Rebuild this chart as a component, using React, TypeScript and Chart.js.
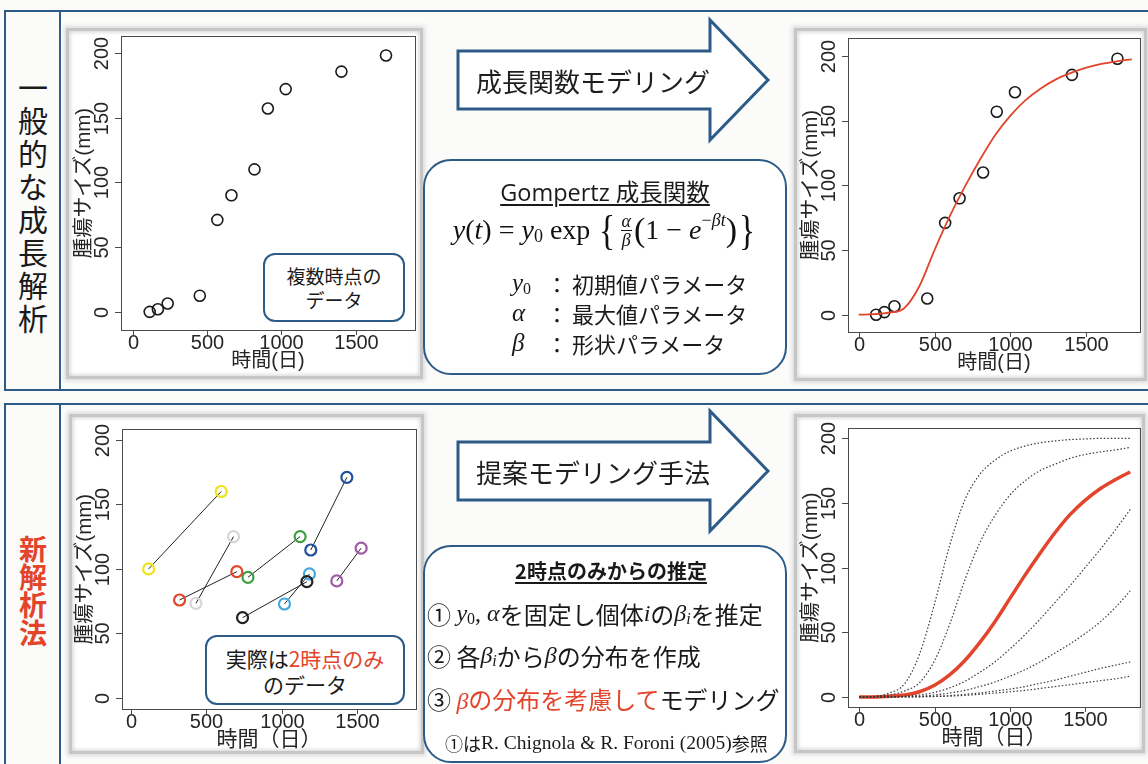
import React, { useEffect, useRef } from "react";
import { Chart, registerables } from "chart.js";

Chart.register(...registerables);

const FONT_SANS = '"Liberation Sans", Arial, "Noto Sans CJK JP", sans-serif';
const FONT_JP = '"Noto Sans CJK JP", "Liberation Sans", sans-serif';
const FONT_SERIF = '"Liberation Serif", "DejaVu Serif", serif';
const BLUE = "#2d5b88";
const RED = "#e2452b";

// ---- axis text ----
const xTicks = [0, 500, 1000, 1500];
const yTicks = [0, 50, 100, 150, 200];
const yTitle = "腫瘍サイズ(mm)";
const xTitleTop = "時間(日)";
const xTitleBottom = "時間（日）";

// ---- observed tumour sizes (top charts) ----
const obsDays = [115, 170, 236, 452, 570, 665, 820, 910, 1030, 1405, 1705];
const obsSize = [0, 2, 6.5, 12.5, 71, 90, 110, 157, 172, 185.5, 198];

// ---- fitted Gompertz curve (top right, red) ----
const fitDays = [0, 100, 200, 300, 400, 500, 600, 700, 800, 900, 1000, 1100, 1200, 1300, 1400, 1500, 1600, 1700, 1800];
const fitSize = [0, 0.4, 1.5, 5, 22, 50, 76, 99, 120, 139, 154, 166, 175, 182, 187, 191, 194, 196, 197.5];

// ---- two-time-point pairs (bottom left) ----
const pairDay1 = [115, 430, 321, 776, 740, 1019, 1194, 1367];
const pairSize1 = [99.9, 73.2, 75.8, 93.4, 62.1, 72.7, 114.6, 90.6];
const pairDay2 = [598, 680, 702, 1123, 1168, 1185, 1434, 1529];
const pairSize2 = [160, 125, 97.8, 125, 90, 96, 171, 116];
const pairColors = ["#efe31a", "#d6d6d6", "#e2452b", "#3f9f3f", "#222222", "#45a9dc", "#1f4f9e", "#a05aa8"];

// ---- simulated growth curves (bottom right) ----
const simDays = [0, 100, 200, 300, 400, 500, 600, 700, 800, 900, 1000, 1100, 1200, 1300, 1400, 1500, 1600, 1700, 1800];
const simA = [0, 0.5, 3, 10, 33, 72, 117, 152, 172, 183, 190, 194, 196.5, 198, 199, 199.5, 200, 200, 200];
const simB = [0, 0.3, 1.5, 4.5, 11, 28, 56, 90, 119, 140, 156, 167, 175, 180, 184.5, 187.5, 189.5, 191, 193];
const simMean = [0, 0, 0.5, 1.5, 4, 9, 17, 28, 42, 58, 76, 94, 111, 127, 141, 152, 161, 168, 174];
const simC = [0, 0, 0.2, 0.6, 1.5, 3.5, 7, 12, 19, 27, 37, 48, 60, 73, 86, 100, 114, 129, 145];
const simD = [0, 0, 0, 0.2, 0.6, 1.5, 3, 5, 8, 11.5, 16, 21, 27, 34, 41, 49, 58, 69, 82];
const simE = [0, 0, 0, 0, 0.2, 0.5, 1, 2, 3, 4.5, 6, 8, 10.5, 13, 16, 19, 22, 24.5, 27];
const simF = [0, 0, 0, 0, 0.1, 0.3, 0.6, 1.2, 2, 3, 4, 5, 6.5, 8, 9.5, 11, 12.5, 14, 16];

const zip = (xs: number[], ys: number[]) => xs.map((x, i) => ({ x, y: ys[i] }));

function axesPlugin(xTitle: string, xTitleSize: number) {
  return {
    id: "rAxes",
    afterDraw(chart: any) {
      const { ctx, chartArea: a, scales } = chart;
      const xs = scales.x;
      const ys = scales.y;
      ctx.save();
      ctx.strokeStyle = "#4a4a4a";
      ctx.lineWidth = 1;
      ctx.strokeRect(Math.round(a.left) + 0.5, Math.round(a.top) + 0.5, Math.round(a.right - a.left), Math.round(a.bottom - a.top));
      ctx.fillStyle = "#262626";
      ctx.textAlign = "center";
      ctx.textBaseline = "middle";
      ctx.font = `20px ${FONT_SANS}`;
      for (const v of xTicks) {
        const px = Math.round(xs.getPixelForValue(v)) + 0.5;
        ctx.beginPath();
        ctx.moveTo(px, a.bottom);
        ctx.lineTo(px, a.bottom + 5);
        ctx.stroke();
        ctx.fillText(String(v), px, a.bottom + 13);
      }
      for (const v of yTicks) {
        const py = Math.round(ys.getPixelForValue(v)) + 0.5;
        ctx.beginPath();
        ctx.moveTo(a.left, py);
        ctx.lineTo(a.left - 6, py);
        ctx.stroke();
        ctx.save();
        ctx.translate(a.left - 19, py);
        ctx.rotate(-Math.PI / 2);
        ctx.fillText(String(v), 0, 0);
        ctx.restore();
      }
      ctx.font = `20.5px ${FONT_SANS}`;
      ctx.save();
      ctx.translate(a.left - 37, (a.top + a.bottom) / 2);
      ctx.rotate(-Math.PI / 2);
      ctx.fillText(yTitle, 0, 0);
      ctx.restore();
      ctx.font = `${xTitleSize}px ${FONT_SANS}`;
      ctx.fillText(xTitle, (a.left + a.right) / 2, a.bottom + 31);
      ctx.restore();
    },
  };
}

type Rect = [number, number, number, number];

function RChart(props: { frame: Rect; plot: Rect; xRange: [number, number]; yRange: [number, number]; datasets: any[]; xTitle: string; xTitleSize: number }) {
  const { frame, plot, xRange, yRange, datasets, xTitle, xTitleSize } = props;
  const ref = useRef<HTMLCanvasElement>(null);
  const [fl, ft, fr, fb] = frame;
  const [pl, pt, pr, pb] = plot;
  const w = fr - fl;
  const h = fb - ft;
  useEffect(() => {
    const chart = new Chart(ref.current as HTMLCanvasElement, {
      type: "scatter",
      data: { datasets },
      options: {
        animation: false,
        responsive: false,
        devicePixelRatio: 1,
        events: [],
        layout: { padding: { left: pl - fl, top: pt - ft, right: fr - pr, bottom: fb - pb } },
        plugins: { legend: { display: false }, tooltip: { enabled: false } },
        scales: {
          x: { type: "linear", display: false, min: xRange[0], max: xRange[1] },
          y: { type: "linear", display: false, min: yRange[0], max: yRange[1] },
        },
      } as any,
      plugins: [axesPlugin(xTitle, xTitleSize)],
    });
    return () => chart.destroy();
  }, []);
  return (
    <>
      <div
        style={{
          position: "absolute",
          left: fl,
          top: ft,
          width: w,
          height: h,
          boxSizing: "border-box",
          border: "3px solid #c6c6c6",
          boxShadow: "0 0 4px 2px #dcdcdc, inset 0 0 4px 1px #d2d2d2",
          background: "#ffffff",
        }}
      />
      <canvas ref={ref} width={w} height={h} style={{ position: "absolute", left: fl, top: ft, width: w, height: h }} />
    </>
  );
}

const obsDataset = {
  data: zip(obsDays, obsSize),
  showLine: false,
  pointRadius: 5.5,
  pointBorderWidth: 1.6,
  pointBorderColor: "#1a1a1a",
  pointBackgroundColor: "rgba(0,0,0,0)",
};

const tlDatasets = [obsDataset];
const trDatasets = [
  {
    data: zip(fitDays, fitSize),
    showLine: true,
    borderColor: RED,
    borderWidth: 1.8,
    pointRadius: 0,
    cubicInterpolationMode: "monotone",
  },
  obsDataset,
];
const blDatasets = pairColors.map((c, i) => ({
  data: [
    { x: pairDay1[i], y: pairSize1[i] },
    { x: pairDay2[i], y: pairSize2[i] },
  ],
  showLine: true,
  borderColor: "#222222",
  borderWidth: 1,
  pointRadius: 5.5,
  pointBorderWidth: 2.2,
  pointBorderColor: c,
  pointBackgroundColor: "rgba(0,0,0,0)",
}));
const dotted = (ys: number[]) => ({
  data: zip(simDays, ys),
  showLine: true,
  borderColor: "#3a3a3a",
  borderWidth: 1.2,
  borderDash: [1.5, 2],
  pointRadius: 0,
  cubicInterpolationMode: "monotone",
});
const brDatasets = [
  dotted(simA),
  dotted(simB),
  dotted(simC),
  dotted(simD),
  dotted(simE),
  dotted(simF),
  {
    data: zip(simDays, simMean),
    showLine: true,
    borderColor: RED,
    borderWidth: 3.5,
    pointRadius: 0,
    cubicInterpolationMode: "monotone",
  },
  dotted(simMean),
];

const I = (p: { children: any; size?: number }) => (
  <span style={{ fontFamily: FONT_SERIF, fontStyle: "italic", fontSize: p.size }}>{p.children}</span>
);

function VText(p: { text: string; top: number; size: number; lh: number; color: string; bold?: boolean }) {
  return (
    <div
      style={{
        position: "absolute",
        left: 8,
        width: 50,
        top: p.top,
        fontSize: p.size,
        lineHeight: `${p.lh}px`,
        textAlign: "center",
        color: p.color,
        fontWeight: p.bold ? 700 : 400,
        fontFamily: FONT_JP,
      }}
    >
      {p.text.split("").map((c, i) => (
        <div key={i}>{c}</div>
      ))}
    </div>
  );
}

function Arrow(p: { top: number; text: string }) {
  const t = p.top; // top of arrow head
  const cy = t + 60;
  const pts = `458,${cy - 29} 710,${cy - 29} 710,${t} 768,${cy} 710,${t + 120} 710,${cy + 29} 458,${cy + 29}`;
  return (
    <>
      <svg style={{ position: "absolute", left: 0, top: 0 }} width={1148} height={764}>
        <polygon points={pts} fill="#ffffff" stroke={BLUE} strokeWidth={3} strokeLinejoin="miter" />
      </svg>
      <div
        style={{
          position: "absolute",
          left: 476,
          top: cy - 20,
          height: 40,
          display: "flex",
          alignItems: "center",
          fontSize: 26,
          fontFamily: FONT_JP,
          color: "#1e1e1e",
          whiteSpace: "nowrap",
        }}
      >
        {p.text}
      </div>
    </>
  );
}

function Row(p: { top: number; left: number; size: number; children: any; color?: string }) {
  return (
    <div
      style={{
        position: "absolute",
        left: p.left,
        top: p.top - 20,
        height: 40,
        display: "flex",
        alignItems: "center",
        fontSize: p.size,
        fontFamily: FONT_JP,
        color: p.color || "#1a1a1a",
        whiteSpace: "nowrap",
      }}
    >
      {p.children}
    </div>
  );
}

export default function App() {
  return (
    <div
      style={{
        position: "absolute",
        left: 0,
        top: 0,
        width: 1148,
        height: 764,
        overflow: "hidden",
        background: "#fbfbfa",
        fontFamily: FONT_JP,
      }}
    >
      {/* section frames */}
      <div style={{ position: "absolute", left: 4, top: 10, width: 1170, height: 381, border: `2px solid ${BLUE}`, boxSizing: "border-box" }} />
      <div style={{ position: "absolute", left: 59, top: 10, width: 2, height: 381, background: BLUE }} />
      <div style={{ position: "absolute", left: 4, top: 403, width: 1170, height: 420, border: `2px solid ${BLUE}`, boxSizing: "border-box" }} />
      <div style={{ position: "absolute", left: 59, top: 403, width: 2, height: 420, background: BLUE }} />

      <VText text="一般的な成長解析" top={70} size={30} lh={33} color="#1a1a1a" />
      <VText text="新解析法" top={534} size={28} lh={28} color={RED} bold />

      {/* charts */}
      <RChart frame={[66, 28, 423, 379]} plot={[121, 36, 415, 330]} xRange={[-78, 1900]} yRange={[-14, 213]} datasets={tlDatasets} xTitle={xTitleTop} xTitleSize={20} />
      <RChart frame={[794, 28, 1147, 381]} plot={[848, 38, 1142, 332]} xRange={[-70, 1853]} yRange={[-13.4, 214]} datasets={trDatasets} xTitle={xTitleTop} xTitleSize={20} />
      <RChart frame={[69, 414, 424, 754]} plot={[122, 429, 416, 709]} xRange={[-62, 1894]} yRange={[-8.8, 208.5]} datasets={blDatasets} xTitle={xTitleBottom} xTitleSize={21} />
      <RChart frame={[794, 414, 1145, 753]} plot={[848, 428, 1140, 707]} xRange={[-75, 1865]} yRange={[-7.8, 208]} datasets={brDatasets} xTitle={xTitleBottom} xTitleSize={21} />

      {/* inset notes */}
      <div
        style={{
          position: "absolute",
          left: 263,
          top: 253,
          width: 142,
          height: 69,
          boxSizing: "border-box",
          border: `2.5px solid ${BLUE}`,
          borderRadius: 12,
          background: "#fff",
          fontSize: 19,
          lineHeight: "24px",
          textAlign: "center",
          paddingTop: 9,
          color: "#1a1a1a",
        }}
      >
        複数時点の
        <br />
        データ
      </div>
      <div
        style={{
          position: "absolute",
          left: 205,
          top: 635,
          width: 200,
          height: 70,
          boxSizing: "border-box",
          border: `2.5px solid ${BLUE}`,
          borderRadius: 12,
          background: "#fff",
          fontSize: 21,
          lineHeight: "26px",
          textAlign: "center",
          paddingTop: 8,
          color: "#1a1a1a",
        }}
      >
        実際は<span style={{ color: RED }}>2時点のみ</span>
        <br />
        のデータ
      </div>

      {/* arrows */}
      <Arrow top={20} text="成長関数モデリング" />
      <Arrow top={411} text="提案モデリング手法" />

      {/* formula box */}
      <div style={{ position: "absolute", left: 423, top: 159, width: 364, height: 216, boxSizing: "border-box", border: `2.5px solid ${BLUE}`, borderRadius: 28, background: "#fff" }} />
      <div
        style={{
          position: "absolute",
          left: 423,
          width: 364,
          top: 174,
          textAlign: "center",
          fontSize: 23.5,
          fontFamily: '"Open Sans", "Noto Sans CJK JP", sans-serif',
          textDecoration: "underline",
          textUnderlineOffset: 3,
          color: "#1a1a1a",
        }}
      >
        Gompertz 成長関数
      </div>
      <div
        style={{
          position: "absolute",
          left: 423,
          width: 364,
          top: 208,
          height: 44,
          display: "flex",
          alignItems: "center",
          justifyContent: "center",
          fontFamily: FONT_SERIF,
          fontSize: 28,
          color: "#111",
          whiteSpace: "nowrap",
        }}
      >
        <I>y</I>(<I>t</I>)&nbsp;=&nbsp;<I>y</I>
        <span style={{ fontSize: 18, position: "relative", top: 6 }}>0</span>&nbsp;exp
        <span style={{ fontSize: 42, lineHeight: "42px", margin: "0 1px 0 7px", transform: "scaleX(0.8)", display: "inline-block" }}>{"{"}</span>
        <span style={{ display: "inline-flex", flexDirection: "column", alignItems: "center", fontSize: 18, lineHeight: "18px", fontStyle: "italic", margin: "0 2px" }}>
          <span style={{ borderBottom: "1px solid #111", padding: "0 1px" }}>α</span>
          <span>β</span>
        </span>
        <span style={{ fontSize: 34, lineHeight: "34px" }}>(</span>1&nbsp;−&nbsp;<I>e</I>
        <span style={{ fontSize: 18, position: "relative", top: -10 }}>
          −<I>βt</I>
        </span>
        <span style={{ fontSize: 34, lineHeight: "34px" }}>)</span>
        <span style={{ fontSize: 42, lineHeight: "42px", transform: "scaleX(0.8)", display: "inline-block" }}>{"}"}</span>
      </div>
      {[
        { v: (
            <>
              <I>y</I>
              <span style={{ fontFamily: FONT_SERIF, fontSize: 16, position: "relative", top: 6 }}>0</span>
            </>
          ), t: "初期値パラメータ", y: 283 },
        { v: <I>α</I>, t: "最大値パラメータ", y: 313 },
        { v: <I>β</I>, t: "形状パラメータ", y: 343 },
      ].map((r, i) => (
        <React.Fragment key={i}>
          <Row top={r.y} left={512} size={25}>
            {r.v}
          </Row>
          <Row top={r.y} left={546} size={22}>
            ：
          </Row>
          <Row top={r.y} left={572} size={22}>
            {r.t}
          </Row>
        </React.Fragment>
      ))}

      {/* estimation box */}
      <div style={{ position: "absolute", left: 423, top: 545, width: 364, height: 218, boxSizing: "border-box", border: `2.5px solid ${BLUE}`, borderRadius: 28, background: "#fff" }} />
      <div
        style={{
          position: "absolute",
          left: 423,
          width: 364,
          top: 556,
          textAlign: "center",
          fontSize: 20,
          fontWeight: 700,
          textDecoration: "underline",
          textUnderlineOffset: 3,
          color: "#1a1a1a",
          paddingLeft: 12,
          boxSizing: "border-box",
        }}
      >
        2時点のみからの推定
      </div>
      <Row top={613} left={427} size={24}>
        ①&nbsp;<I>y</I>
        <span style={{ fontFamily: FONT_SERIF, fontSize: 16, position: "relative", top: 6 }}>0</span>
        <span style={{ fontFamily: FONT_SERIF }}>,&nbsp;</span>
        <I>α</I>を固定し個体<I>i</I>の<I>β</I>
        <span style={{ fontFamily: FONT_SERIF, fontStyle: "italic", fontSize: 16, position: "relative", top: 6 }}>i</span>を推定
      </Row>
      <Row top={655} left={427} size={24}>
        ②&nbsp;各<I>β</I>
        <span style={{ fontFamily: FONT_SERIF, fontStyle: "italic", fontSize: 16, position: "relative", top: 6 }}>i</span>から<I>β</I>の分布を作成
      </Row>
      <Row top={698} left={427} size={24}>
        ③&nbsp;
        <span style={{ color: RED }}>
          <I>β</I>の分布を考慮して
        </span>
        モデリング
      </Row>
      <Row top={743} left={445} size={18}>
        ①は<span style={{ fontFamily: FONT_SERIF, fontSize: 19.5 }}>R. Chignola &amp; R. Foroni (2005)</span>参照
      </Row>
    </div>
  );
}
